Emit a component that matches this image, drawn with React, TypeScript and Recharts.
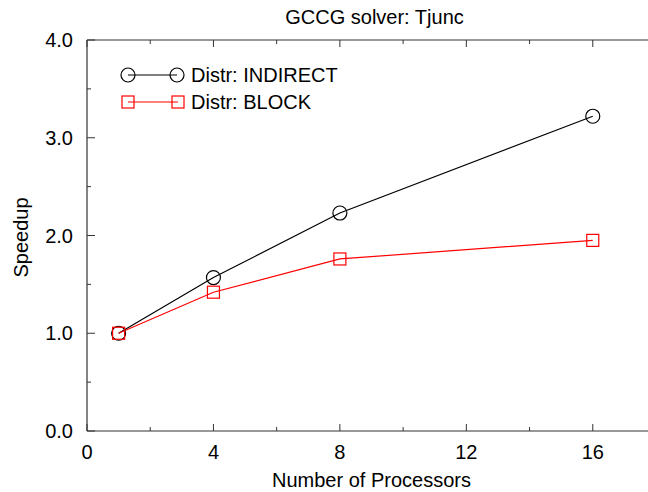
import React from 'react';
import { LineChart, Line, XAxis, YAxis, Legend } from 'recharts';

const processors = [1, 4, 8, 16];
const indirectSpeedup = [1.0, 1.57, 2.23, 3.22];
const blockSpeedup = [1.0, 1.42, 1.76, 1.95];
const xTicks = [0, 2, 4, 6, 8, 10, 12, 14, 16];
const yTicks = [0, 0.5, 1, 1.5, 2, 2.5, 3, 3.5, 4];
const seriesNames = ['Distr: INDIRECT', 'Distr: BLOCK'];
const titleText = 'GCCG solver: Tjunc';
const xLabel = 'Number of Processors';
const yLabel = 'Speedup';

const data = processors.map((p, i) => ({
  p,
  indirect: indirectSpeedup[i],
  block: blockSpeedup[i],
}));

const FONT = 'Liberation Sans, Arial, Helvetica, sans-serif';
const AXIS = '#333';

const BottomTick = (props: any) => {
  const { x, y, payload } = props;
  const v = payload.value;
  const major = v % 4 === 0;
  return (
    <g>
      <line x1={x} x2={x} y1={y} y2={y - (major ? 7 : 4)} stroke={AXIS} strokeWidth={1} />
      {major && (
        <text x={x} y={y + 28} textAnchor="middle" fontSize={20} fontFamily={FONT} fill="#000">
          {v}
        </text>
      )}
    </g>
  );
};

const TopTick = (props: any) => {
  const { x, y, payload } = props;
  const major = payload.value % 4 === 0;
  return <line x1={x} x2={x} y1={y} y2={y + (major ? 7 : 4)} stroke={AXIS} strokeWidth={1} />;
};

const LeftTick = (props: any) => {
  const { x, y, payload } = props;
  const v = payload.value;
  const major = Math.abs(v - Math.round(v)) < 1e-6;
  return (
    <g>
      <line x1={x} x2={x + (major ? 8 : 4)} y1={y} y2={y} stroke={AXIS} strokeWidth={1} />
      {major && (
        <text x={x - 14} y={y + 7} textAnchor="end" fontSize={20} fontFamily={FONT} fill="#000">
          {v.toFixed(1)}
        </text>
      )}
    </g>
  );
};

const CircleDot = (props: any) => {
  const { cx, cy } = props;
  if (cx == null || cy == null) return null;
  return <circle cx={cx} cy={cy} r={7} fill="none" stroke="#000" strokeWidth={1.2} />;
};

const SquareDot = (props: any) => {
  const { cx, cy } = props;
  if (cx == null || cy == null) return null;
  return <rect x={cx - 6} y={cy - 6} width={12} height={12} fill="none" stroke="#ff0000" strokeWidth={1.2} />;
};

const LegendContent = () => (
  <svg width={260} height={62} style={{ display: 'block' }}>
    <line x1={20} x2={69} y1={17} y2={17} stroke="#000" strokeWidth={1.2} />
    <circle cx={20} cy={17} r={7} fill="none" stroke="#000" strokeWidth={1.2} />
    <circle cx={69} cy={17} r={7} fill="none" stroke="#000" strokeWidth={1.2} />
    <text x={83} y={24} fontSize={20} fontFamily={FONT} fill="#000">{seriesNames[0]}</text>
    <line x1={20} x2={70} y1={44} y2={44} stroke="#ff0000" strokeWidth={1.2} />
    <rect x={14} y={38} width={12} height={12} fill="none" stroke="#ff0000" strokeWidth={1.2} />
    <rect x={64} y={38} width={12} height={12} fill="none" stroke="#ff0000" strokeWidth={1.2} />
    <text x={83} y={51} fontSize={20} fontFamily={FONT} fill="#000">{seriesNames[1]}</text>
  </svg>
);

export default function App() {
  return (
    <div style={{ position: 'absolute', left: 8, top: 8, width: 640, height: 484, overflow: 'hidden' }}>
      <LineChart width={650} height={484} data={data} margin={{ top: 31, right: 2, bottom: 0, left: 0 }}>
        <XAxis
          dataKey="p"
          type="number"
          domain={[0, 18]}
          ticks={xTicks}
          interval={0}
          height={61}
          tickSize={0}
          tickMargin={0}
          tickLine={false}
          axisLine={{ stroke: AXIS, strokeWidth: 1.2 }}
          tick={(p: any) => <BottomTick {...p} />}
          allowDataOverflow
          label={{
            content: (p: any) => {
              const vb = p.viewBox;
              return (
                <text x={vb.x + vb.width / 2} y={vb.y + 56} textAnchor="middle" fontSize={20} fontFamily={FONT} fill="#000">
                  {xLabel}
                </text>
              );
            },
          }}
        />
        <XAxis
          xAxisId="top"
          orientation="top"
          dataKey="p"
          type="number"
          domain={[0, 18]}
          ticks={xTicks}
          interval={0}
          height={1}
          tickSize={0}
          tickMargin={0}
          tickLine={false}
          axisLine={{ stroke: AXIS, strokeWidth: 1.2 }}
          tick={(p: any) => <TopTick {...p} />}
          allowDataOverflow
          label={{
            content: (p: any) => {
              const vb = p.viewBox;
              return (
                <text x={vb.x + vb.width / 2 + 3} y={16} textAnchor="middle" fontSize={20} fontFamily={FONT} fill="#000">
                  {titleText}
                </text>
              );
            },
          }}
        />
        <YAxis
          type="number"
          domain={[0, 4]}
          ticks={yTicks}
          interval={0}
          width={79}
          tickSize={0}
          tickMargin={0}
          tickLine={false}
          axisLine={{ stroke: AXIS, strokeWidth: 1.2 }}
          tick={(p: any) => <LeftTick {...p} />}
          label={{
            content: (p: any) => {
              const vb = p.viewBox;
              const cy = vb.y + vb.height / 2 + 2;
              return (
                <text x={20} y={cy} textAnchor="middle" fontSize={20} fontFamily={FONT} fill="#000" transform={`rotate(-90, 20, ${cy})`}>
                  {yLabel}
                </text>
              );
            },
          }}
        />
        <Legend
          layout="vertical"
          align="center"
          verticalAlign="middle"
          content={() => <LegendContent />}
          wrapperStyle={{ left: 100, top: 50, width: 260, height: 62 }}
        />
        <Line
          name={seriesNames[0]}
          dataKey="indirect"
          type="linear"
          stroke="#000"
          strokeWidth={1.2}
          dot={(p: any) => <CircleDot key={`c${p.index}`} {...p} />}
          activeDot={false}
          isAnimationActive={false}
        />
        <Line
          name={seriesNames[1]}
          dataKey="block"
          type="linear"
          stroke="#ff0000"
          strokeWidth={1.2}
          dot={(p: any) => <SquareDot key={`s${p.index}`} {...p} />}
          activeDot={false}
          isAnimationActive={false}
        />
      </LineChart>
    </div>
  );
}
